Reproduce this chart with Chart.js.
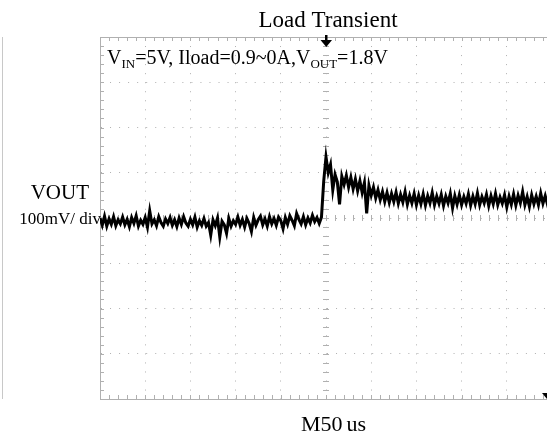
<!DOCTYPE html>
<html lang="en">
<head>
  <meta charset="utf-8">
  <title>Load Transient</title>
  <style>
    html, body { margin: 0; padding: 0; background: #fff; overflow: hidden; }
    .wrap { position: relative; width: 560px; height: 437px; }
  </style>
</head>
<body>
  <div class="wrap">
    <canvas id="scope"></canvas>
  </div>

  <script src="https://cdn.jsdelivr.net/npm/chart.js"></script>
  <script>
    // scope capture: 50us/div, 100mV/div (AC coupled, 0 = centre line)
    const startUs = -250;
    const sampleUs = 2.5;

    // VOUT in mV, before the load step (t = -250 .. -5 us)
    const voutPre = [
      0, -16, 4, -18, -2, -14, 3, -17, -4, -13,
      2, -15, -3, -19, 1, -12, 5, -18, -5, -14,
      1, -20, 16, -13, -4, -17, 3, -10, -18, -2,
      -12, 1, -16, -4, -19, 0, -14, 3, -11, -18,
      -3, -15, 2, -20, -6, -16, -1, -18, -10, -38,
      -4, -17, 0, -42, -7, -15, -34, -1, -18, -6,
      -14, 2, -16, -3, -20, -1, -12, -30, 1, -16,
      -4, 4, -15, -2, -18, 3, -13, -1, -16, 2,
      -6, -24, 1, -14, 5, -5, -17, 10, -3, -13,
      3, -15, 0, -11, 6, -8, 1, -12, 2
    ];

    // VOUT in mV, after the load release (t = -2.5 .. 250 us)
    const voutPost = [
      82, 135, 100, 118, 62, 96, 80, 30, 92, 74,
      94, 68, 90, 64, 86, 60, 82, 56, 78, 10,
      72, 50, 68, 44, 62, 40, 58, 36, 56, 34,
      54, 36, 57, 32, 52, 35, 58, 30, 50, 33,
      54, 29,
      50, 31, 53, 28, 49, 33, 56, 29, 48, 32,
      52, 27, 48, 33, 54, 22, 49, 30, 51, 29,
      47, 32, 53, 28, 48, 31, 55, 29, 47, 33,
      52, 27, 49, 31, 54, 29, 46, 32, 51, 24,
      48, 30, 53, 28, 50, 33, 58, 29, 47, 25,
      51, 31, 48, 29, 55, 32, 49, 30, 52, 34
    ];

    const titleText = "Load Transient";
    const channelName = "VOUT";
    const channelScale = "100mV/ div";
    const timebase = ["M50", "us"];

    const points = voutPre.concat(voutPost).map((v, i) => ({ x: startUs + i * sampleUs, y: v }));

    const serif = '"Liberation Serif", "DejaVu Serif", serif';
    const gridGray = "#b0b0b0";

    // graticule ticks, trigger marker and labels
    const scopeDecor = {
      id: "scopeDecor",
      beforeDatasetsDraw(chart) {
        const { ctx, chartArea: a, scales: { x, y } } = chart;
        ctx.save();
        ctx.strokeStyle = gridGray;
        ctx.lineWidth = 1;
        ctx.beginPath();
        // top frame line
        ctx.moveTo(a.left, a.top + 0.5);
        ctx.lineTo(a.right, a.top + 0.5);
        const cx = x.getPixelForValue(0);
        const cy = y.getPixelForValue(0);
        for (let t = -250; t <= 250; t += 10) {
          const px = Math.round(x.getPixelForValue(t)) + 0.5;
          ctx.moveTo(px, a.top); ctx.lineTo(px, a.top + 4);
          ctx.moveTo(px, a.bottom); ctx.lineTo(px, a.bottom - 4);
          ctx.moveTo(px, cy - 3); ctx.lineTo(px, cy + 3);
        }
        for (let v = -400; v <= 400; v += 20) {
          const py = Math.round(y.getPixelForValue(v)) + 0.5;
          ctx.moveTo(a.left, py); ctx.lineTo(a.left + 4, py);
          ctx.moveTo(cx - 3, py); ctx.lineTo(cx + 3, py);
        }
        ctx.stroke();
        // thin line at far left
        ctx.beginPath();
        ctx.strokeStyle = "#c8c8c8";
        ctx.moveTo(2.5, a.top);
        ctx.lineTo(2.5, a.bottom);
        ctx.stroke();
        ctx.restore();
      },
      afterDraw(chart) {
        const { ctx, chartArea: a, scales: { x, y } } = chart;
        const cx = x.getPixelForValue(0);
        ctx.save();
        ctx.fillStyle = "#000";

        // trigger arrow
        ctx.fillRect(cx - 1, a.top - 2, 2.5, 6);
        ctx.beginPath();
        ctx.moveTo(cx - 5.5, a.top + 3);
        ctx.lineTo(cx + 6, a.top + 3);
        ctx.lineTo(cx + 0.25, a.top + 10);
        ctx.closePath();
        ctx.fill();

        // bottom right marker
        ctx.beginPath();
        ctx.moveTo(a.right - 10, a.bottom - 6);
        ctx.lineTo(a.right - 3, a.bottom - 6);
        ctx.lineTo(a.right - 5, a.bottom);
        ctx.closePath();
        ctx.fill();

        ctx.textBaseline = "alphabetic";
        ctx.font = "23px " + serif;
        ctx.textAlign = "center";
        ctx.fillText(titleText, cx + 2, 27);

        ctx.textAlign = "right";
        ctx.font = "21px " + serif;
        ctx.fillText(channelName, 89, 199);
        ctx.font = "17px " + serif;
        ctx.fillText(channelScale, a.left + 1, 224);

        // conditions line with subscripts
        ctx.textAlign = "left";
        const parts = [
          ["V", 0], ["IN", 1], ["=5V, Iload=0.9~0A,V", 0], ["OUT", 1], ["=1.8V", 0]
        ];
        let px = 107;
        for (const [txt, sub] of parts) {
          ctx.font = (sub ? "13px " : "20px ") + serif;
          ctx.fillText(txt, px, sub ? 68 : 64);
          px += ctx.measureText(txt).width;
        }

        ctx.font = "22px " + serif;
        ctx.fillText(timebase[0], 301, 431);
        const w = ctx.measureText(timebase[0]).width;
        ctx.fillText(timebase[1], 301 + w + 4, 431);
        ctx.restore();
      }
    };

    new Chart(document.getElementById("scope"), {
      type: "line",
      data: {
        datasets: [{
          label: channelName,
          data: points,
          borderColor: "#000",
          borderWidth: 3,
          pointRadius: 0,
          tension: 0
        }]
      },
      options: {
        responsive: true,
        maintainAspectRatio: false,
        animation: false,
        layout: { padding: { left: 100, top: 37, right: 8, bottom: 38 } },
        plugins: { legend: { display: false }, tooltip: { enabled: false } },
        scales: {
          x: {
            type: "linear",
            min: -250,
            max: 250,
            ticks: { display: false, stepSize: 50 },
            grid: { color: gridGray, lineWidth: 1, drawTicks: false },
            border: { display: true, color: gridGray, width: 1, dash: [1, 8.04] }
          },
          y: {
            min: -400,
            max: 400,
            ticks: { display: false, stepSize: 100 },
            grid: { color: gridGray, lineWidth: 1, drawTicks: false },
            border: { display: true, color: gridGray, width: 1, dash: [1, 8.04] }
          }
        }
      },
      plugins: [scopeDecor]
    });
  </script>
</body>
</html>
